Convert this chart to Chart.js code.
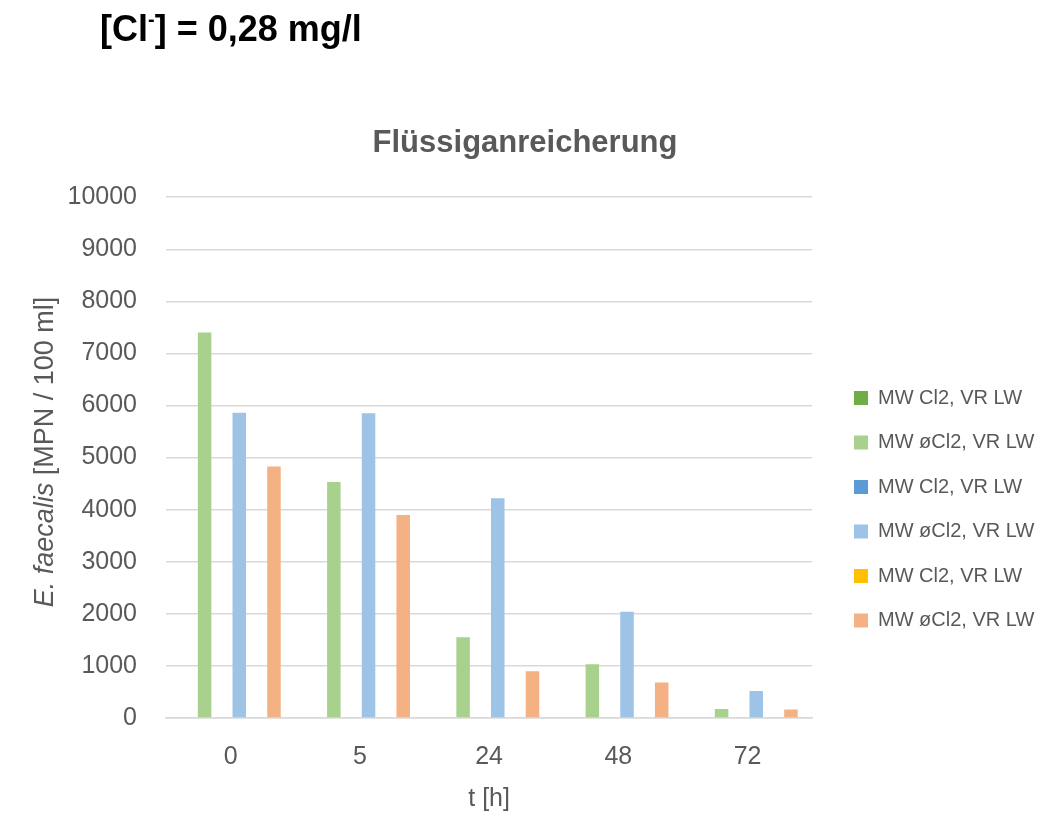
<!DOCTYPE html>
<html>
<head>
<meta charset="utf-8">
<script src="https://cdn.jsdelivr.net/npm/chart.js@4.4.1/dist/chart.umd.min.js"></script>
<style>
  html, body { margin: 0; padding: 0; background: #ffffff; }
  #wrap { position: relative; width: 1063px; height: 817px; }
  #heading { position: absolute; left: 100px; top: 11px; font-family: 'Liberation Sans', Arial, sans-serif; font-weight: bold; font-size: 36px; line-height: 1; color: #000; z-index: 2; white-space: nowrap; }
  #heading sup { font-size: 20px; vertical-align: 15px; line-height: 0; }
  canvas { position: absolute; left: 0; top: 0; }
</style>
</head>
<body>
<div id="wrap">
  <div id="heading">[Cl<sup>-</sup>] = 0,28 mg/l</div>
  <canvas id="c" width="1063" height="817"></canvas>
</div>
<script>
// ---- data ----
const categories = ['0', '5', '24', '48', '72'];
const seriesNames = ['MW Cl2, VR LW', 'MW øCl2, VR LW', 'MW Cl2, VR LW', 'MW øCl2, VR LW', 'MW Cl2, VR LW', 'MW øCl2, VR LW'];
const mwCl2_A   = [0, 0, 0, 0, 0];
const mwNoCl2_A = [7400, 4530, 1550, 1030, 175];
const mwCl2_B   = [0, 0, 0, 0, 0];
const mwNoCl2_B = [5860, 5850, 4220, 2040, 520];
const mwCl2_C   = [0, 0, 0, 0, 0];
const mwNoCl2_C = [4830, 3900, 900, 680, 165];
const yMin = 0, yMax = 10000, yStep = 1000;
const colors = ['#70AD47', '#A9D18E', '#5B9BD5', '#9DC3E6', '#FFC000', '#F4B183'];

const seriesData = [mwCl2_A, mwNoCl2_A, mwCl2_B, mwNoCl2_B, mwCl2_C, mwNoCl2_C];
const FONT = "'Liberation Sans', Arial, sans-serif";
const GREY = '#595959';

const yTitlePlugin = {
  id: 'yTitle',
  afterDraw(chart) {
    const ctx = chart.ctx;
    ctx.save();
    ctx.translate(53, 452);
    ctx.rotate(-Math.PI / 2);
    ctx.fillStyle = GREY;
    ctx.textBaseline = 'alphabetic';
    const p1 = 'E. faecalis', p2 = ' [MPN / 100 ml]';
    ctx.font = 'italic 27px ' + FONT;
    const w1 = ctx.measureText(p1).width;
    ctx.font = '27px ' + FONT;
    const w2 = ctx.measureText(p2).width;
    const x0 = -(w1 + w2) / 2;
    ctx.font = 'italic 27px ' + FONT;
    ctx.fillText(p1, x0, 0);
    ctx.font = '27px ' + FONT;
    ctx.fillText(p2, x0 + w1, 0);
    ctx.restore();
  }
};

const boxShift = {
  id: 'boxShift',
  afterLayout(chart) {
    const lg = chart.legend;
    if (lg) {
      const dx = 854 - 24.5 - lg.left;
      lg.left += dx; lg.right += dx;
      const dy = 363.5 - lg.top;
      lg.top += dy; lg.bottom += dy;
    }
    const tb = chart.titleBlock;
    if (tb) {
      const c = (tb.left + tb.right) / 2;
      const dx = 525 - c;
      tb.left += dx; tb.right += dx;
    }
  }
};

new Chart(document.getElementById('c'), {
  type: 'bar',
  data: {
    labels: categories,
    datasets: seriesData.map((d, i) => ({
      label: seriesNames[i],
      data: d,
      backgroundColor: colors[i],
      borderWidth: 0,
      categoryPercentage: 0.805,
      barPercentage: 0.78
    }))
  },
  options: {
    responsive: false,
    animation: false,
    devicePixelRatio: 1,
    layout: { padding: { left: 0, right: 36, top: 0, bottom: 0 } },
    plugins: {
      title: {
        display: true,
        text: 'Flüssiganreicherung',
        color: GREY,
        font: { family: FONT, size: 31, weight: 'bold', lineHeight: 1.2 },
        padding: { top: 125, bottom: 35 }
      },
      legend: {
        display: true,
        position: 'right',
        align: 'start',
        fullSize: false,
        labels: {
          color: GREY,
          font: { family: FONT, size: 20 },
          boxWidth: 14,
          boxHeight: 14,
          padding: 24.5
        }
      },
      tooltip: { enabled: false }
    },
    scales: {
      x: {
        grid: { display: false, drawTicks: false },
        border: { display: true, color: '#D9D9D9', width: 1.5 },
        ticks: { color: GREY, font: { family: FONT, size: 25 }, padding: 24 },
        title: { display: true, text: 't [h]', color: GREY, font: { family: FONT, size: 25 }, padding: { top: 0, bottom: 3 } },
        afterFit(scale) { scale.height = 99; }
      },
      y: {
        min: yMin, max: yMax,
        ticks: { stepSize: yStep, color: GREY, font: { family: FONT, size: 25 }, padding: 29,
                 callback: (v) => String(v) },
        grid: { color: '#D9D9D9', lineWidth: 1.5, drawTicks: false },
        border: { display: false },
        afterFit(scale) { scale.width = 166; }
      }
    }
  },
  plugins: [yTitlePlugin, boxShift]
});
</script>
</body>
</html>
